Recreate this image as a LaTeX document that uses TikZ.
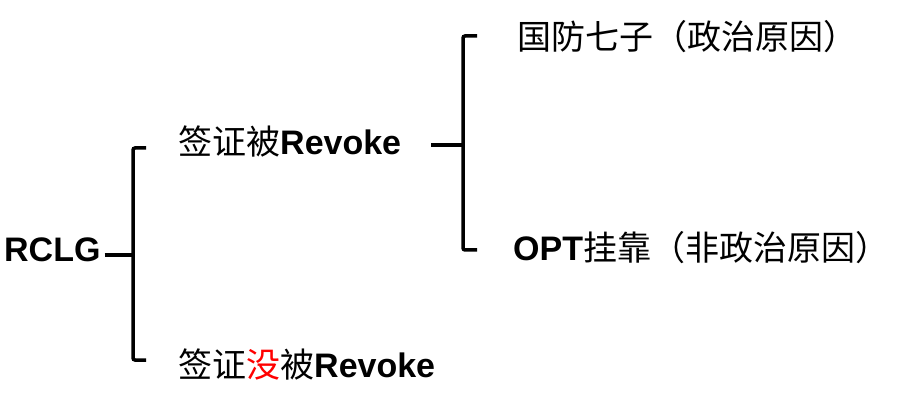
\documentclass[tikz,border=0pt]{standalone}
\usepackage{fontspec}
\setmainfont{Liberation Sans}
\newfontfamily\cjk{Noto Sans CJK SC}
\tikzstyle{item}=[anchor=west, inner sep=0pt, font=\fontsize{34}{41}\selectfont]
\tikzstyle{brace}=[draw, line width=3.5pt, rounded corners=2pt]
\tikzstyle{stub}=[draw, line width=3.5pt]

\begin{document}
\begin{tikzpicture}[x=1pt, y=-1pt]
  \useasboundingbox (0,0) rectangle (902,403);

  \node[item] (rclg) at (4,250) {\textbf{RCLG}};
  \node[item] (revoked) at (178,141) {{\cjk 签证被}\textbf{Revoke}};
  \node[item] (kept) at (178,364) {{\cjk 签证}{\cjk\color{red}没}{\cjk 被}\textbf{Revoke}};
  \node[item] (political) at (517,37) {\cjk 国防七子（政治原因）};
  \node[item] (opt) at (513,248) {\textbf{OPT}{\cjk 挂靠（非政治原因）}};

  % first brace
  \coordinate (fork_1) at (133,255);
  \coordinate (top_1) at (146,148);
  \coordinate (bot_1) at (146,360);
  \path[stub] ([xshift=4pt]rclg.east |- fork_1) -- (fork_1);
  \path[brace] (top_1) -| (fork_1) |- (bot_1);

  % second brace
  \coordinate (fork_2) at (463,145);
  \coordinate (top_2) at (477,36);
  \coordinate (bot_2) at (477,250);
  \path[stub] ([xshift=30pt]revoked.east |- fork_2) -- (fork_2);
  \path[brace] (top_2) -| (fork_2) |- (bot_2);
\end{tikzpicture}
\end{document}
